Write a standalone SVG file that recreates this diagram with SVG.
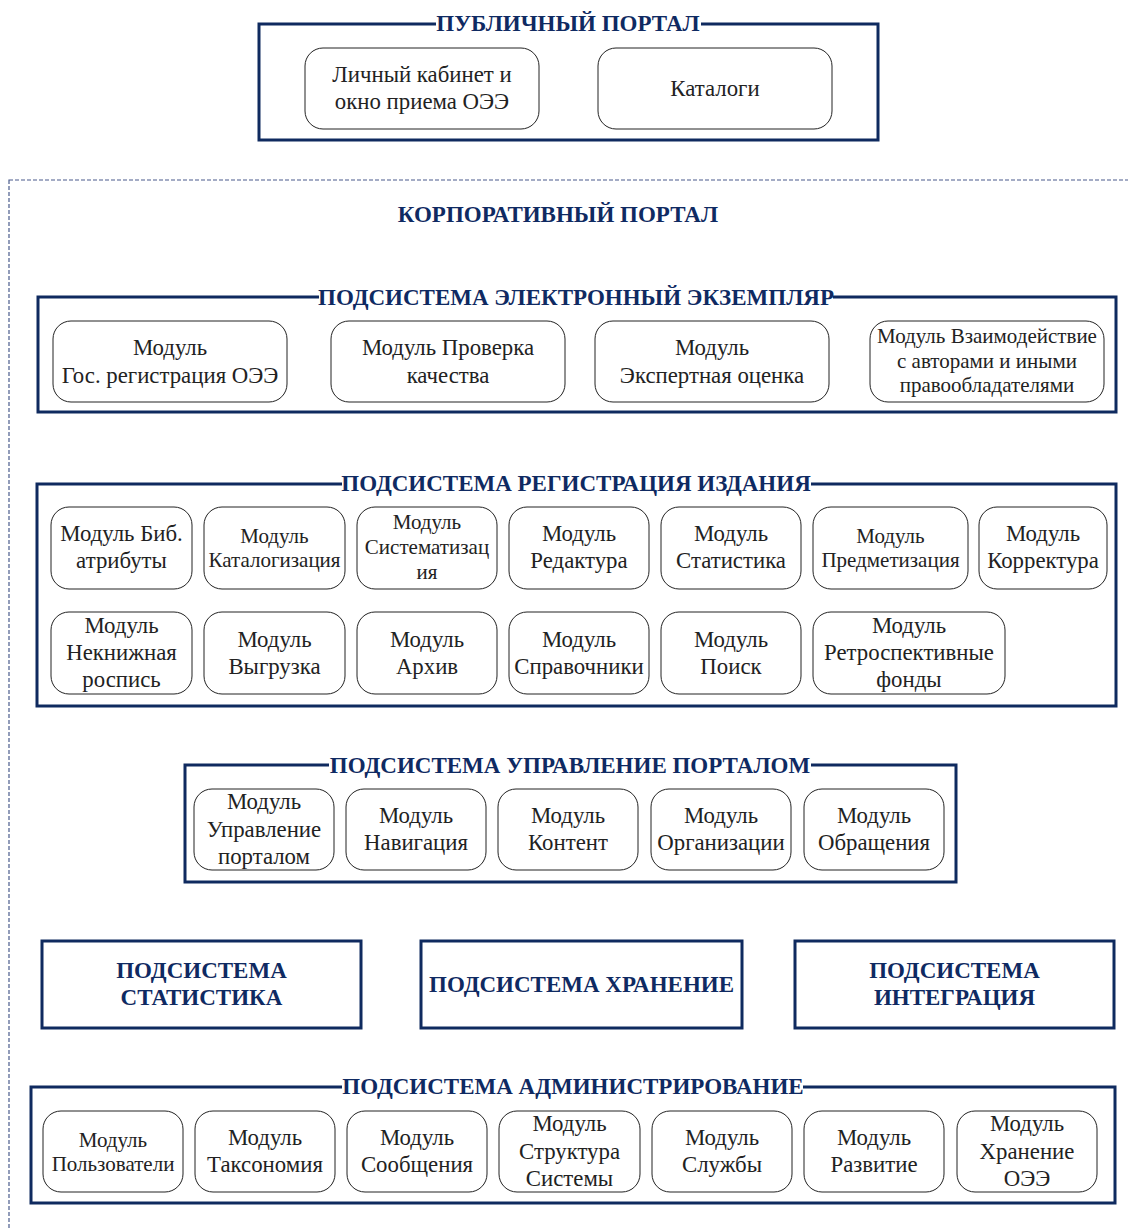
<svg xmlns="http://www.w3.org/2000/svg" width="1128" height="1228" viewBox="0 0 1128 1228">
<style>
.frame{fill:#fff;stroke:#0f2a5f;stroke-width:3}
.gap{fill:#fff;stroke:none}
.title{font-family:"Liberation Serif","Times New Roman",serif;font-weight:bold;font-size:23px;fill:#0f2a62;text-anchor:middle}
.box{fill:#fff;stroke:#222;stroke-width:1}
.t{font-family:"Liberation Serif","Times New Roman",serif;font-size:22.8px;fill:#222;text-anchor:middle}
.s{font-family:"Liberation Serif","Times New Roman",serif;font-size:21px;fill:#222;text-anchor:middle}
.dash{fill:none;stroke:#4a5b8c;stroke-width:1.2;stroke-dasharray:4 2}
</style>
<rect width="1128" height="1228" fill="#fff"/>

<g id="corporate-portal">
<rect class="dash" x="9" y="180" width="1140" height="1070"/>
<text class="title" x="558" y="222">КОРПОРАТИВНЫЙ ПОРТАЛ</text>
</g>

<g id="public-portal">
<rect class="frame" x="259" y="24" width="619" height="116"/>
<rect class="gap" x="436" y="14" width="265" height="20"/>
<text class="title" x="568" y="31">ПУБЛИЧНЫЙ ПОРТАЛ</text>
<g id="m-cabinet"><rect class="box" x="305" y="48" width="234" height="81" rx="18"/>
<text class="t" x="422" y="82">Личный кабинет и</text><text class="t" x="422" y="109">окно приема ОЭЭ</text></g>
<g id="m-catalogs"><rect class="box" x="598" y="48" width="234" height="81" rx="18"/>
<text class="t" x="715" y="95.5">Каталоги</text></g>
</g>

<g id="sub-ee">
<rect class="frame" x="38" y="297" width="1078" height="115"/>
<rect class="gap" x="319" y="287" width="514" height="20"/>
<text class="title" x="576" y="305">ПОДСИСТЕМА ЭЛЕКТРОННЫЙ ЭКЗЕМПЛЯР</text>
<g id="m-gosreg"><rect class="box" x="53" y="321" width="234" height="81" rx="18"/>
<text class="t" x="170" y="354.5">Модуль</text><text class="t" x="170" y="382.5">Гос. регистрация ОЭЭ</text></g>
<g id="m-quality"><rect class="box" x="331" y="321" width="234" height="81" rx="18"/>
<text class="t" x="448" y="354.5">Модуль Проверка</text><text class="t" x="448" y="382.5">качества</text></g>
<g id="m-expert"><rect class="box" x="595" y="321" width="234" height="81" rx="18"/>
<text class="t" x="712" y="354.5">Модуль</text><text class="t" x="712" y="382.5">Экспертная оценка</text></g>
<g id="m-interact"><rect class="box" x="870" y="321" width="234" height="81" rx="18"/>
<text class="s" x="987" y="343">Модуль Взаимодействие</text><text class="s" x="987" y="367.5">с авторами и иными</text><text class="s" x="987" y="392">правообладателями</text></g>
</g>

<g id="sub-reg">
<rect class="frame" x="37" y="484" width="1079" height="222"/>
<rect class="gap" x="342" y="474" width="469" height="20"/>
<text class="title" x="576" y="491">ПОДСИСТЕМА РЕГИСТРАЦИЯ ИЗДАНИЯ</text>
<g id="m-bib"><rect class="box" x="51" y="507" width="141" height="82" rx="18"/>
<text class="t" x="121.5" y="541">Модуль Биб.</text><text class="t" x="121.5" y="568">атрибуты</text></g>
<g id="m-catalog"><rect class="box" x="204" y="507" width="141" height="82" rx="18"/>
<text class="s" x="274.5" y="542.5">Модуль</text><text class="s" x="274.5" y="566.5">Каталогизация</text></g>
<g id="m-system"><rect class="box" x="357" y="507" width="140" height="82" rx="18"/>
<text class="s" x="427" y="529">Модуль</text><text class="s" x="427" y="554">Систематизац</text><text class="s" x="427" y="579">ия</text></g>
<g id="m-edit"><rect class="box" x="509" y="507" width="140" height="82" rx="18"/>
<text class="t" x="579" y="541">Модуль</text><text class="t" x="579" y="568">Редактура</text></g>
<g id="m-stat"><rect class="box" x="661" y="507" width="140" height="82" rx="18"/>
<text class="t" x="731" y="541">Модуль</text><text class="t" x="731" y="568">Статистика</text></g>
<g id="m-subject"><rect class="box" x="813" y="507" width="155" height="82" rx="18"/>
<text class="s" x="890.5" y="542.5">Модуль</text><text class="s" x="890.5" y="566.5">Предметизация</text></g>
<g id="m-correct"><rect class="box" x="979" y="507" width="128" height="82" rx="18"/>
<text class="t" x="1043" y="541">Модуль</text><text class="t" x="1043" y="568">Корректура</text></g>
<g id="m-nonbook"><rect class="box" x="51" y="612" width="141" height="82" rx="18"/>
<text class="t" x="121.5" y="633">Модуль</text><text class="t" x="121.5" y="660">Некнижная</text><text class="t" x="121.5" y="687">роспись</text></g>
<g id="m-export"><rect class="box" x="204" y="612" width="141" height="82" rx="18"/>
<text class="t" x="274.5" y="646.5">Модуль</text><text class="t" x="274.5" y="673.5">Выгрузка</text></g>
<g id="m-archive"><rect class="box" x="357" y="612" width="140" height="82" rx="18"/>
<text class="t" x="427" y="646.5">Модуль</text><text class="t" x="427" y="673.5">Архив</text></g>
<g id="m-refs"><rect class="box" x="509" y="612" width="140" height="82" rx="18"/>
<text class="t" x="579" y="646.5">Модуль</text><text class="t" x="579" y="673.5">Справочники</text></g>
<g id="m-search"><rect class="box" x="661" y="612" width="140" height="82" rx="18"/>
<text class="t" x="731" y="646.5">Модуль</text><text class="t" x="731" y="673.5">Поиск</text></g>
<g id="m-retro"><rect class="box" x="813" y="612" width="192" height="82" rx="18"/>
<text class="t" x="909" y="633">Модуль</text><text class="t" x="909" y="660">Ретроспективные</text><text class="t" x="909" y="687">фонды</text></g>
</g>

<g id="sub-mgmt">
<rect class="frame" x="185" y="765" width="771" height="117"/>
<rect class="gap" x="329" y="755" width="482" height="20"/>
<text class="title" x="570" y="773">ПОДСИСТЕМА УПРАВЛЕНИЕ ПОРТАЛОМ</text>
<g id="m-portal"><rect class="box" x="194" y="789" width="140" height="81" rx="18"/>
<text class="t" x="264" y="809">Модуль</text><text class="t" x="264" y="836.5">Управление</text><text class="t" x="264" y="864">порталом</text></g>
<g id="m-nav"><rect class="box" x="346" y="789" width="140" height="81" rx="18"/>
<text class="t" x="416" y="823">Модуль</text><text class="t" x="416" y="850">Навигация</text></g>
<g id="m-content"><rect class="box" x="498" y="789" width="140" height="81" rx="18"/>
<text class="t" x="568" y="823">Модуль</text><text class="t" x="568" y="850">Контент</text></g>
<g id="m-org"><rect class="box" x="651" y="789" width="140" height="81" rx="18"/>
<text class="t" x="721" y="823">Модуль</text><text class="t" x="721" y="850">Организации</text></g>
<g id="m-appeal"><rect class="box" x="804" y="789" width="140" height="81" rx="18"/>
<text class="t" x="874" y="823">Модуль</text><text class="t" x="874" y="850">Обращения</text></g>
</g>

<g id="sub-stat">
<rect class="frame" x="42" y="941" width="319" height="87"/>
<text class="title" x="201.5" y="977.5">ПОДСИСТЕМА</text><text class="title" x="201.5" y="1004.5">СТАТИСТИКА</text>
</g>
<g id="sub-storage">
<rect class="frame" x="421" y="941" width="321" height="87"/>
<text class="title" x="581.5" y="992">ПОДСИСТЕМА ХРАНЕНИЕ</text>
</g>
<g id="sub-integr">
<rect class="frame" x="795" y="941" width="319" height="87"/>
<text class="title" x="954.5" y="977.5">ПОДСИСТЕМА</text><text class="title" x="954.5" y="1004.5">ИНТЕГРАЦИЯ</text>
</g>

<g id="sub-admin">
<rect class="frame" x="31" y="1087" width="1084" height="116"/>
<rect class="gap" x="342" y="1077" width="461" height="20"/>
<text class="title" x="573" y="1094">ПОДСИСТЕМА АДМИНИСТРИРОВАНИЕ</text>
<g id="m-users"><rect class="box" x="43" y="1111" width="140" height="81" rx="18"/>
<text class="s" x="113" y="1146.5">Модуль</text><text class="s" x="113" y="1170.5">Пользователи</text></g>
<g id="m-tax"><rect class="box" x="195" y="1111" width="140" height="81" rx="18"/>
<text class="t" x="265" y="1145">Модуль</text><text class="t" x="265" y="1172">Таксономия</text></g>
<g id="m-msg"><rect class="box" x="347" y="1111" width="140" height="81" rx="18"/>
<text class="t" x="417" y="1145">Модуль</text><text class="t" x="417" y="1172">Сообщения</text></g>
<g id="m-struct"><rect class="box" x="499" y="1111" width="141" height="81" rx="18"/>
<text class="t" x="569.5" y="1131">Модуль</text><text class="t" x="569.5" y="1158.5">Структура</text><text class="t" x="569.5" y="1186">Системы</text></g>
<g id="m-services"><rect class="box" x="652" y="1111" width="140" height="81" rx="18"/>
<text class="t" x="722" y="1145">Модуль</text><text class="t" x="722" y="1172">Службы</text></g>
<g id="m-dev"><rect class="box" x="804" y="1111" width="140" height="81" rx="18"/>
<text class="t" x="874" y="1145">Модуль</text><text class="t" x="874" y="1172">Развитие</text></g>
<g id="m-store"><rect class="box" x="957" y="1111" width="140" height="81" rx="18"/>
<text class="t" x="1027" y="1131">Модуль</text><text class="t" x="1027" y="1158.5">Хранение</text><text class="t" x="1027" y="1186">ОЭЭ</text></g>
</g>

<g id="connectors"></g>
</svg>
